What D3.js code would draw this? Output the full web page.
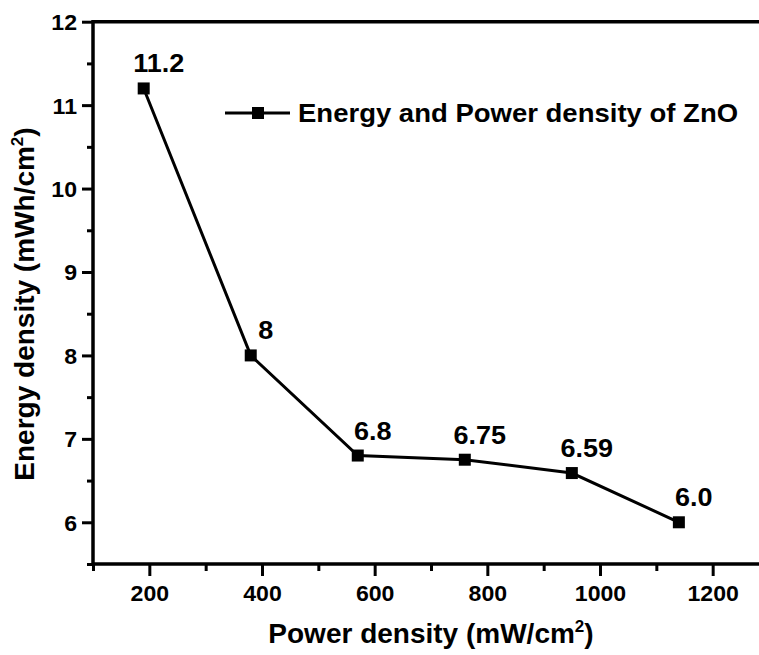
<!DOCTYPE html>
<html>
<head>
<meta charset="utf-8">
<script src="https://cdn.jsdelivr.net/npm/d3@7"></script>
<style>
  html, body { margin: 0; padding: 0; background: #fff; }
  svg { display: block; }
  text { font-family: "Liberation Sans", Arial, sans-serif; font-weight: bold; fill: #000; }
</style>
</head>
<body>
<svg id="chart" width="759" height="655"></svg>
<script>
// Energy density vs power density of ZnO
const powerDensity = [190, 380, 570, 760, 950, 1140];
const energyDensity = [11.2, 8, 6.8, 6.75, 6.59, 6.0];
const pointLabels = ["11.2", "8", "6.8", "6.75", "6.59", "6.0"];
const xTicks = [200, 400, 600, 800, 1000, 1200];
const yTicks = [6, 7, 8, 9, 10, 11, 12];
const seriesName = "Energy and Power density of ZnO";

const svg = d3.select("#chart");
const W = 759, H = 655;
const mLeft = 93, mTop = 21.7, mBottom = 564, mRight = 769;

const x = d3.scaleLinear().domain([100, 1300]).range([mLeft, mRight]);
const y = d3.scaleLinear().domain([5.5, 12]).range([mBottom, mTop]);

// widen glyphs slightly (the typeface used is a little broader than Arial)
function widen(sel, k) {
  sel.each(function () {
    const len = this.getComputedTextLength();
    d3.select(this).attr("textLength", len * k).attr("lengthAdjust", "spacingAndGlyphs");
  });
}

svg.append("defs").append("clipPath").attr("id", "frame")
  .append("rect").attr("x", 0).attr("y", 0).attr("width", W).attr("height", H);

const g = svg.append("g").attr("clip-path", "url(#frame)");

// minor ticks
const xMinor = d3.range(100, 1301, 100).filter(v => v % 200 !== 0);
const yMinor = d3.range(5.5, 12, 1);

// bottom axis
const xAxis = g.append("g").attr("transform", `translate(0,${mBottom})`)
  .call(d3.axisBottom(x).tickValues(xTicks).tickSize(12).tickPadding(6).tickFormat(d3.format("d")));
g.append("g").attr("transform", `translate(0,${mBottom})`)
  .call(d3.axisBottom(x).tickValues(xMinor).tickSize(7).tickFormat(""));

// left axis
const yAxis = g.append("g").attr("transform", `translate(${mLeft},0)`)
  .call(d3.axisLeft(y).tickValues(yTicks).tickSize(11).tickPadding(5).tickFormat(d3.format("d")));
g.append("g").attr("transform", `translate(${mLeft},0)`)
  .call(d3.axisLeft(y).tickValues(yMinor).tickSize(6).tickFormat(""));

g.selectAll(".domain").remove();
g.selectAll(".tick line").attr("stroke", "#000").attr("stroke-width", 3);
xAxis.selectAll(".tick text").style("font-size", "22px").attr("dy", "0.85em");
yAxis.selectAll(".tick text").style("font-size", "22px").attr("dy", "0.36em");
widen(xAxis.selectAll(".tick text"), 1.05);
widen(yAxis.selectAll(".tick text"), 1.05);

// frame lines: left, bottom, top
g.append("line").attr("x1", mLeft).attr("x2", mLeft).attr("y1", mTop - 1.75).attr("y2", mBottom + 1.75)
  .attr("stroke", "#000").attr("stroke-width", 3.5);
g.append("line").attr("x1", mLeft).attr("x2", mRight).attr("y1", mBottom).attr("y2", mBottom)
  .attr("stroke", "#000").attr("stroke-width", 3.5);
g.append("line").attr("x1", mLeft).attr("x2", mRight).attr("y1", mTop).attr("y2", mTop)
  .attr("stroke", "#000").attr("stroke-width", 3.5);

// series
const pts = powerDensity.map((p, i) => ({ p, e: energyDensity[i], label: pointLabels[i] }));
g.append("path").datum(pts)
  .attr("fill", "none").attr("stroke", "#000").attr("stroke-width", 3)
  .attr("d", d3.line().x(d => x(d.p)).y(d => y(d.e)));

const ms = 12;
g.selectAll("rect.marker").data(pts).join("rect").attr("class", "marker")
  .attr("x", d => x(d.p) - ms / 2).attr("y", d => y(d.e) - ms / 2)
  .attr("width", ms).attr("height", ms).attr("fill", "#000");

const vlabels = g.selectAll("text.vlabel").data(pts).join("text").attr("class", "vlabel")
  .attr("x", d => x(d.p) + 15).attr("y", d => y(d.e) - 16)
  .attr("text-anchor", "middle").style("font-size", "25px")
  .text(d => d.label);
widen(vlabels, 1.08);

// legend
const lg = g.append("g").attr("transform", "translate(225,113)");
lg.append("line").attr("x1", 0).attr("x2", 65).attr("y1", 0).attr("y2", 0)
  .attr("stroke", "#000").attr("stroke-width", 3);
lg.append("rect").attr("x", 33 - ms / 2).attr("y", -ms / 2).attr("width", ms).attr("height", ms).attr("fill", "#000");
const legText = lg.append("text").attr("x", 73).attr("y", 9).style("font-size", "25px").text(seriesName);
widen(legText, 1.1);

// axis titles
const xt = g.append("text").attr("x", (mLeft + mRight) / 2).attr("y", 643)
  .attr("text-anchor", "middle").style("font-size", "28px");
xt.append("tspan").text("Power density (mW/cm");
xt.append("tspan").attr("dy", -11).style("font-size", "17px").text("2");
xt.append("tspan").attr("dy", 11).text(")");

const yt = g.append("text").attr("transform", "translate(34,304) rotate(-90)")
  .attr("text-anchor", "middle").style("font-size", "28px");
yt.append("tspan").text("Energy density (mWh/cm");
yt.append("tspan").attr("dy", -11).style("font-size", "17px").text("2");
yt.append("tspan").attr("dy", 11).text(")");
</script>
</body>
</html>
